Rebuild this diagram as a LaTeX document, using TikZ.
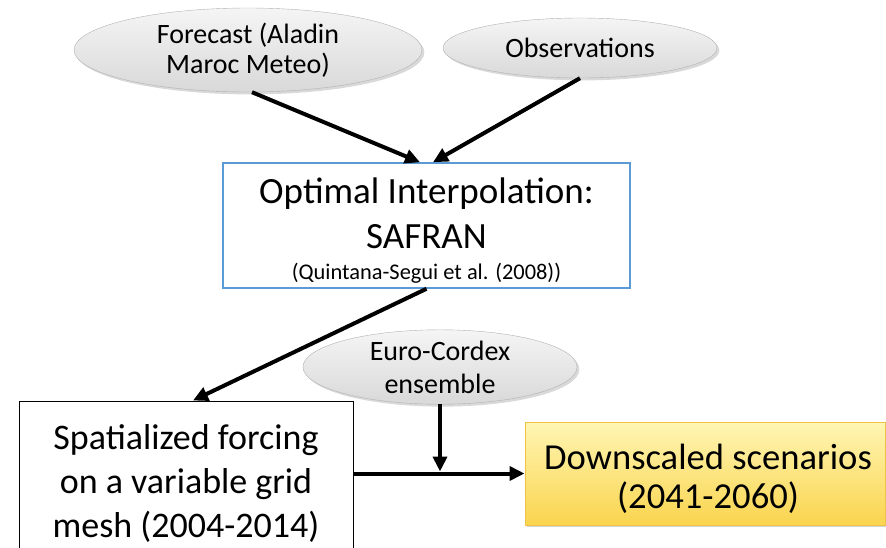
\documentclass[tikz,border=0pt]{standalone}
\usepackage{fontspec}
\setmainfont{Carlito}
\usepackage{xcolor}
\usepackage{tikz}
\usetikzlibrary{shapes,arrows,positioning,calc,shadows,arrows.meta}

\definecolor{boxblue}{RGB}{91,155,213}
\definecolor{lightyellow}{RGB}{255,246,180}
\definecolor{darkyellow}{RGB}{249,212,78}
\definecolor{edgeyellow}{RGB}{240,195,70}

\begin{document}
\begin{tikzpicture}[x=1pt, y=-1pt,
    inputs/.style={ellipse, draw=gray!60, top color=gray!8, bottom color=gray!30,
        drop shadow={opacity=0.3}, inner sep=0pt, align=center},
    arr/.style={line width=4pt, -{Triangle[length=15pt,width=14pt]}}]
    \useasboundingbox (0,0) rectangle (886,547);

    % Input data
    \node[inputs, minimum width=348, minimum height=84,
        font=\fontsize{28}{30}\selectfont] (forecast) at (248,50)
        {Forecast (Aladin\\Maroc Meteo)};
    \node[inputs, minimum width=274, minimum height=60,
        font=\fontsize{28}{30}\selectfont] (obs) at (580,48) {Observations};

    % Interpolation
    \node[draw=boxblue, line width=1.5pt, fill=white, minimum width=407,
        minimum height=125, align=center, inner sep=0pt,
        font=\fontsize{37}{45}\selectfont] (safran) at (426.5,225.5)
        {\rule{0pt}{36pt}Optimal Interpolation:\\SAFRAN\\[-14pt]
         {\fontsize{22.4}{26}\selectfont (Quintana-Segui et al. (2008))}};

    % Forcing and scenarios
    \node[draw, line width=1pt, fill=white, minimum width=334, minimum height=174,
        align=center, inner sep=0pt, font=\fontsize{36}{44}\selectfont] (spatial)
        at (186,488) {Spatialized forcing\\on a variable grid\\
        mesh (2004-2014)\rule[-14pt]{0pt}{14pt}};
    \node[inputs, minimum width=274, minimum height=69,
        font=\fontsize{28}{33}\selectfont] (euro) at (440,367)
        {Euro-Cordex\\ensemble};
    \node[draw=edgeyellow, line width=1pt, top color=lightyellow,
        bottom color=darkyellow, drop shadow={opacity=0.35}, minimum width=360,
        minimum height=103, align=center, inner sep=0pt,
        font=\fontsize{36.6}{39}\selectfont] (down) at (705,473.5)
        {\rule{0pt}{36pt}\,Downscaled scenarios\\\,(2041-2060)};

    % Arrows
    \coordinate (join) at (euro.south |- down.west);
    \draw[arr] ([xshift=4pt]forecast.south) -- ([xshift=-6.5pt]safran.north);
    \draw[arr] (obs.south) -- ([xshift=6.5pt]safran.north);
    \draw[arr] (safran.south) -- ([xshift=7pt]spatial.north);
    \draw[arr] (spatial.east |- down.west) -- (down.west);
    \draw[arr, shorten >=2pt] (euro.south) -- (join);
\end{tikzpicture}
\end{document}
